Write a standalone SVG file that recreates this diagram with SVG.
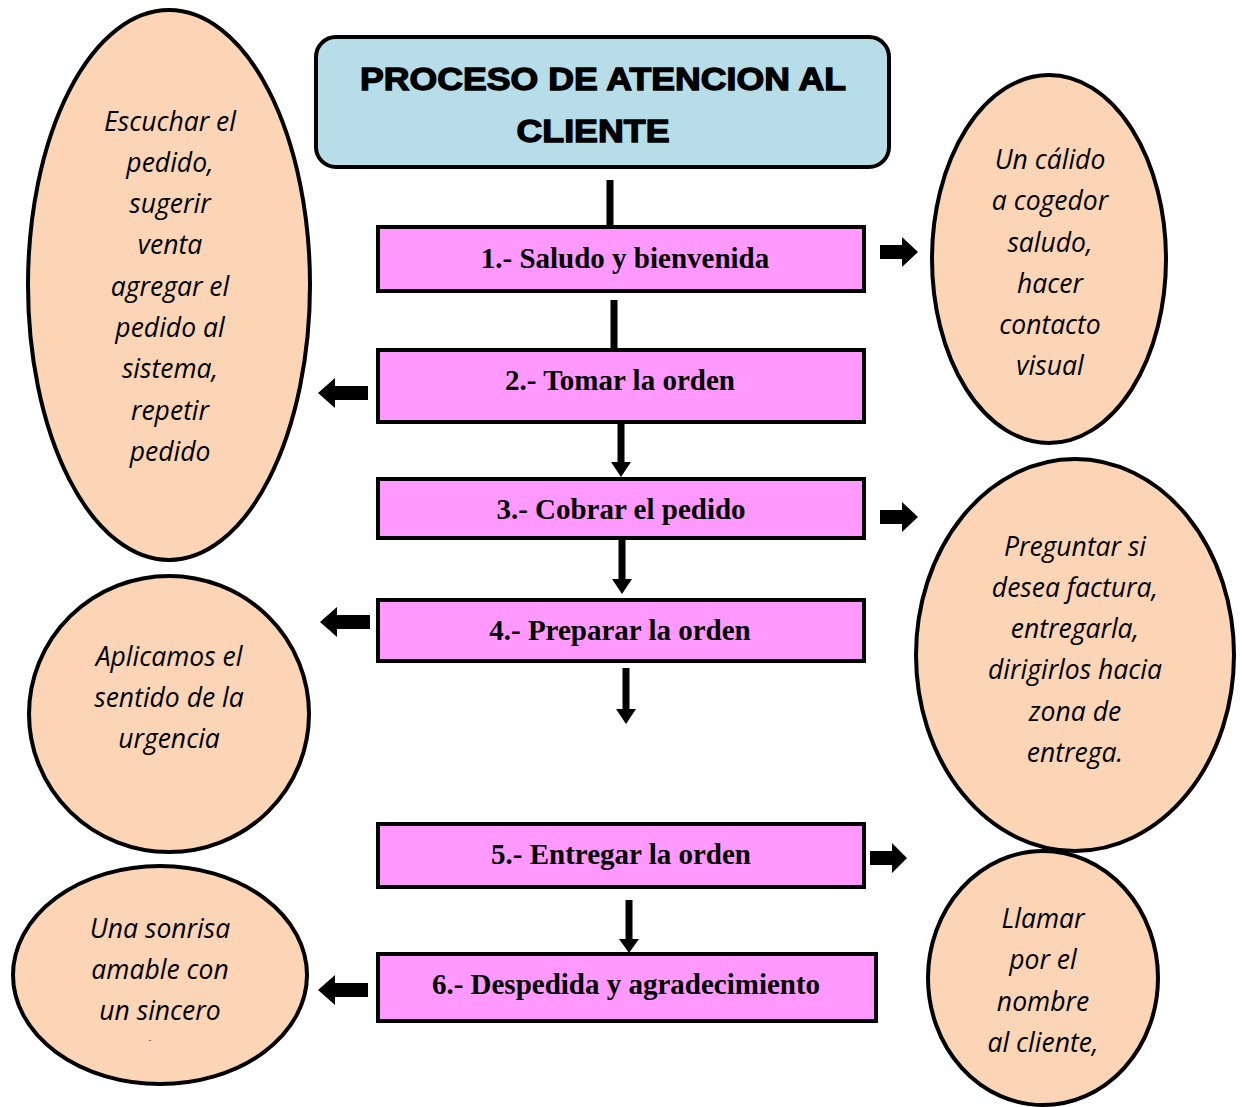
<svg xmlns="http://www.w3.org/2000/svg" width="1242" height="1107" viewBox="0 0 1242 1107">
<style>
.ell{fill:#fbd5b5;stroke:#000;stroke-width:4}
.box{fill:#ff99ff;stroke:#000;stroke-width:4}
.bt{font-family:"Liberation Serif",serif;font-weight:bold;font-size:29px;text-anchor:middle;fill:#000}
.et{font-family:"Open Sans","Noto Sans",sans-serif;font-style:italic;font-size:26.5px;text-anchor:middle;fill:#000}
.tt{font-family:"Liberation Sans",Arial,sans-serif;font-weight:900;font-size:32px;text-anchor:middle;fill:#000;stroke:#000;stroke-width:1.3}
.ln{stroke:#000;stroke-width:7;fill:none}
.blk{fill:#000}
</style>
<rect width="1242" height="1107" fill="#fff"/>
<g id="title">
<rect x="316" y="37" width="573" height="130" rx="20" fill="#b7dde8" stroke="#000" stroke-width="4"/>
<text class="tt" x="603" y="90" textLength="486" lengthAdjust="spacingAndGlyphs">PROCESO DE ATENCION AL</text>
<text class="tt" x="593" y="142" textLength="153" lengthAdjust="spacingAndGlyphs">CLIENTE</text>
</g>
<g id="connectors">
<line class="ln" x1="610" y1="180" x2="610" y2="227"/>
<line class="ln" x1="614" y1="300" x2="614" y2="349"/>
<line class="ln" x1="621" y1="424" x2="621" y2="466"/>
<path class="blk" d="M611,462 L631,462 L621,477 Z"/>
<line class="ln" x1="622" y1="540" x2="622" y2="582"/>
<path class="blk" d="M612,579 L632,579 L622,594 Z"/>
<line class="ln" x1="626" y1="668" x2="626" y2="712"/>
<path class="blk" d="M616,709 L636,709 L626,724 Z"/>
<line class="ln" x1="629" y1="900" x2="629" y2="942"/>
<path class="blk" d="M619,939 L639,939 L629,953 Z"/>
<path class="blk" d="M880,245 L902,245 L902,237 L918,252 L902,267 L902,259 L880,259 Z"/>
<path class="blk" d="M880,510 L902,510 L902,502 L918,517 L902,532 L902,524 L880,524 Z"/>
<path class="blk" d="M870,851 L892,851 L892,843 L907,858 L892,873 L892,865 L870,865 Z"/>
<path class="blk" d="M368,386 L335,386 L335,378 L318,393 L335,408 L335,400 L368,400 Z"/>
<path class="blk" d="M370,615 L337,615 L337,607 L320,622 L337,637 L337,629 L370,629 Z"/>
<path class="blk" d="M368,983 L335,983 L335,975 L318,990 L335,1005 L335,997 L368,997 Z"/>
</g>
<g id="step1"><rect class="box" x="378" y="227" width="486" height="64"/><text class="bt" x="625" y="268">1.- Saludo y bienvenida</text></g>
<g id="step2"><rect class="box" x="378" y="350" width="486" height="72"/><text class="bt" x="620" y="390">2.- Tomar la orden</text></g>
<g id="step3"><rect class="box" x="378" y="479" width="486" height="59"/><text class="bt" x="621" y="519">3.- Cobrar el pedido</text></g>
<g id="step4"><rect class="box" x="378" y="600" width="486" height="61"/><text class="bt" x="620" y="640">4.- Preparar la orden</text></g>
<g id="step5"><rect class="box" x="378" y="824" width="486" height="63"/><text class="bt" x="621" y="864">5.- Entregar la orden</text></g>
<g id="step6"><rect class="box" x="378" y="954" width="498" height="67"/><text class="bt" x="626" y="994">6.- Despedida y agradecimiento</text></g>
<g id="note-escuchar">
<ellipse class="ell" cx="169" cy="285" rx="141" ry="275"/>
<text class="et" x="170" y="131">Escuchar el</text>
<text class="et" x="170" y="172">pedido,</text>
<text class="et" x="170" y="213">sugerir</text>
<text class="et" x="170" y="254">venta</text>
<text class="et" x="170" y="296">agregar el</text>
<text class="et" x="170" y="337">pedido al</text>
<text class="et" x="170" y="378">sistema,</text>
<text class="et" x="170" y="420">repetir</text>
<text class="et" x="170" y="461">pedido</text>
</g>
<g id="note-saludo">
<ellipse class="ell" cx="1049" cy="259" rx="117" ry="184"/>
<text class="et" x="1050" y="169">Un cálido</text>
<text class="et" x="1050" y="210">a cogedor</text>
<text class="et" x="1050" y="252">saludo,</text>
<text class="et" x="1050" y="293">hacer</text>
<text class="et" x="1050" y="334">contacto</text>
<text class="et" x="1050" y="375">visual</text>
</g>
<g id="note-urgencia">
<ellipse class="ell" cx="169" cy="714" rx="140" ry="138"/>
<text class="et" x="169" y="666">Aplicamos el</text>
<text class="et" x="169" y="707">sentido de la</text>
<text class="et" x="169" y="748">urgencia</text>
</g>
<g id="note-factura">
<ellipse class="ell" cx="1075" cy="655" rx="159" ry="196"/>
<text class="et" x="1075" y="556">Preguntar si</text>
<text class="et" x="1075" y="597">desea factura,</text>
<text class="et" x="1075" y="638">entregarla,</text>
<text class="et" x="1075" y="679">dirigirlos hacia</text>
<text class="et" x="1075" y="721">zona de</text>
<text class="et" x="1075" y="762">entrega.</text>
</g>
<g id="note-sonrisa">
<ellipse class="ell" cx="160" cy="975" rx="147" ry="109"/>
<text class="et" x="160" y="938">Una sonrisa</text>
<text class="et" x="160" y="979">amable con</text>
<text class="et" x="160" y="1020">un sincero</text>
<text class="et" x="150" y="1042" style="font-size:8px">-</text>
</g>
<g id="note-nombre">
<ellipse class="ell" cx="1043" cy="978" rx="115" ry="127"/>
<text class="et" x="1043" y="928">Llamar</text>
<text class="et" x="1043" y="969">por el</text>
<text class="et" x="1043" y="1011">nombre</text>
<text class="et" x="1043" y="1052">al cliente,</text>
</g>
</svg>
